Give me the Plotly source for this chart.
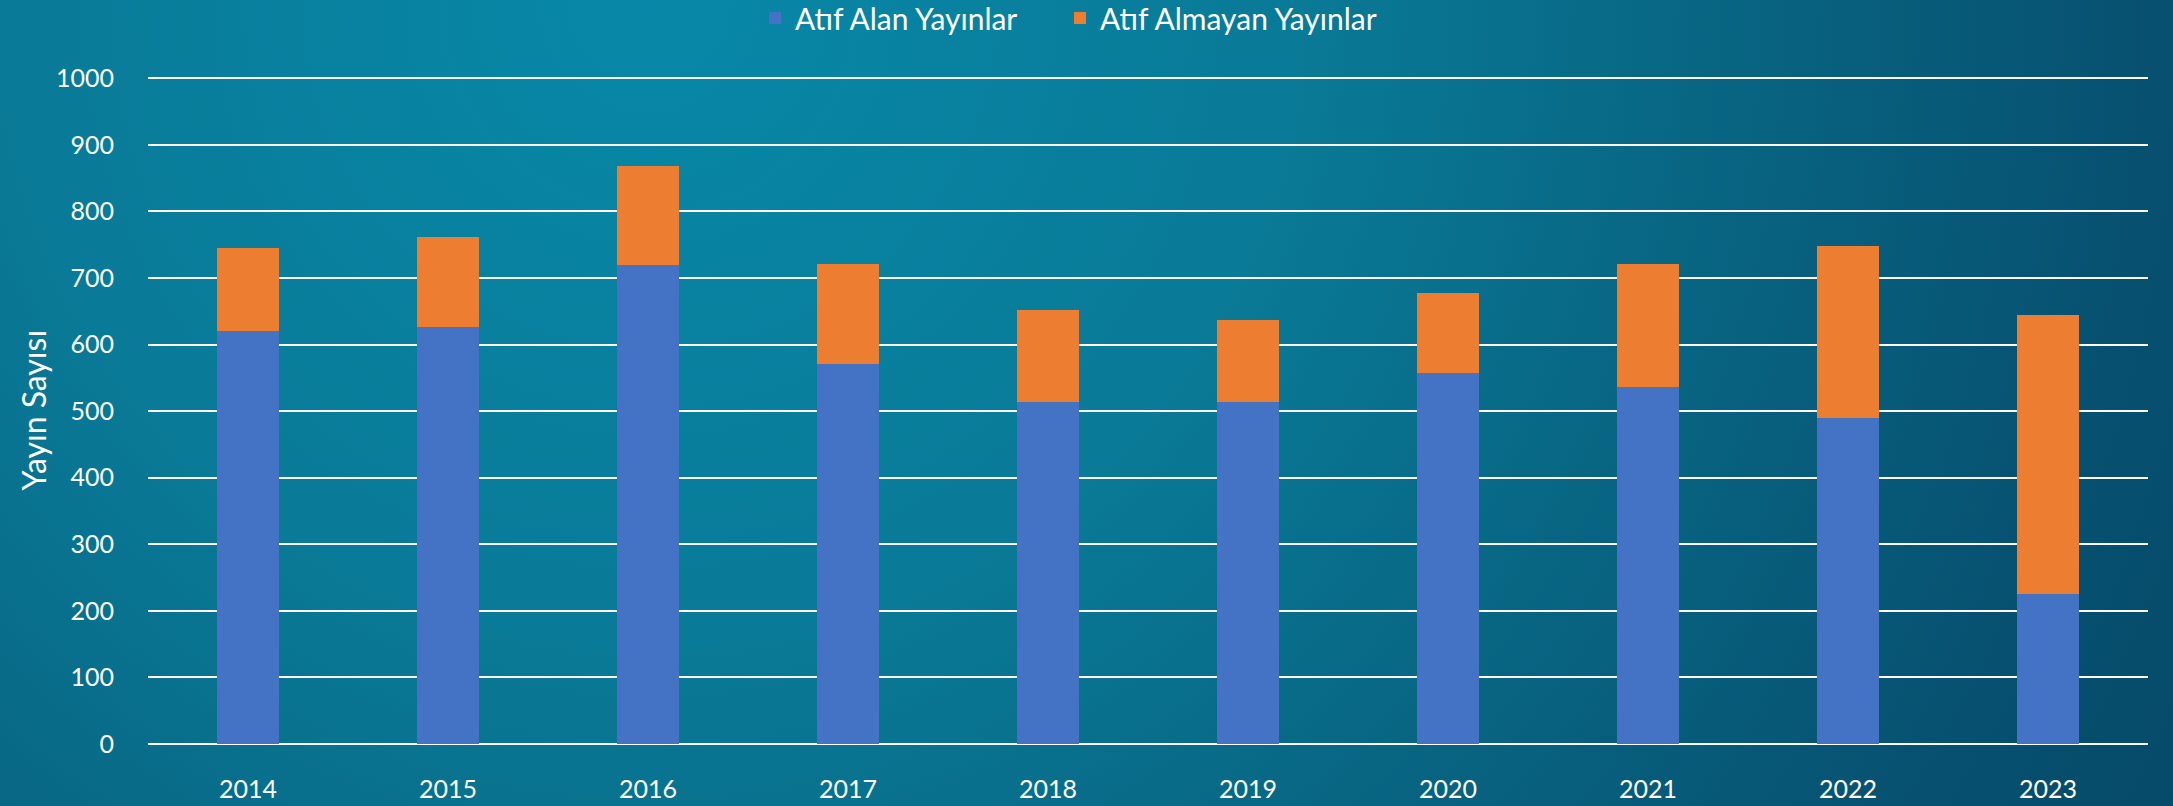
import base64
import plotly.graph_objects as go

years = ["2014", "2015", "2016", "2017", "2018", "2019", "2020", "2021", "2022", "2023"]
cited = [620, 626, 720, 571, 514, 514, 558, 537, 490, 225]
uncited = [125, 135, 148, 150, 138, 123, 119, 184, 258, 420]
y_ticks = [0, 100, 200, 300, 400, 500, 600, 700, 800, 900, 1000]

W, H = 2173, 806
L, R, T, B = 148, 25, 77, 62
PW, PH = W - L - R, H - T - B

svg = f'''<svg xmlns="http://www.w3.org/2000/svg" width="{W}" height="{H}" viewBox="0 0 {W} {H}">
<defs><radialGradient id="g" gradientUnits="userSpaceOnUse" cx="650" cy="0" r="1750">
<stop offset="0" stop-color="#0888a8"/>
<stop offset="0.37" stop-color="#097a97"/>
<stop offset="0.59" stop-color="#086784"/>
<stop offset="0.86" stop-color="#075070"/>
<stop offset="1" stop-color="#064a68"/>
</radialGradient></defs>
<rect width="{W}" height="{H}" fill="url(#g)"/></svg>'''
bg = "data:image/svg+xml;base64," + base64.b64encode(svg.encode()).decode()

font = "Lato, 'Open Sans', sans-serif"

fig = go.Figure()
fig.add_trace(go.Bar(x=years, y=cited, name="Atıf Alan Yayınlar",
                     marker=dict(color="#4472c4", line=dict(width=0)),
                     legend="legend"))
fig.add_trace(go.Bar(x=years, y=uncited, name="Atıf Almayan Yayınlar",
                     marker=dict(color="#ed7d31", line=dict(width=0)),
                     legend="legend2"))

legend_common = dict(orientation="h", xanchor="left",
                     y=1 + (T - 18) / PH, yanchor="middle",
                     font=dict(size=30, color="white"), bgcolor="rgba(0,0,0,0)",
                     itemwidth=30)

fig.update_layout(
    width=W, height=H,
    barmode="stack", bargap=0.69,
    margin=dict(l=L, r=R, t=T, b=B, autoexpand=False),
    paper_bgcolor="#076a88", plot_bgcolor="rgba(0,0,0,0)",
    font=dict(family=font, color="white", size=25),
    showlegend=True,
    legend=dict(x=(755 - L) / PW, **legend_common),
    legend2=dict(x=(1060 - L) / PW, **legend_common),
    images=[dict(source=bg, xref="paper", yref="paper",
                 x=-L / PW, y=1 + T / PH, sizex=W / PW, sizey=H / PH,
                 xanchor="left", yanchor="top", sizing="stretch", layer="below")],
    annotations=[dict(text="Yayın Sayısı", xref="paper", yref="paper",
                      x=(33 - L) / PW, y=0.5, xanchor="center", yanchor="middle",
                      textangle=-90, showarrow=False,
                      font=dict(size=32, color="white", family=font))],
)
fig.update_yaxes(range=[0, 1002], tickvals=y_ticks, showgrid=True,
                 gridcolor="white", gridwidth=2, zeroline=True,
                 zerolinecolor="white", zerolinewidth=2,
                 ticks="outside", ticklen=28, tickcolor="rgba(0,0,0,0)",
                 tickfont=dict(size=25, color="white"), showline=False)
fig.update_xaxes(showgrid=False, ticks="outside", ticklen=23,
                 tickcolor="rgba(0,0,0,0)", tickfont=dict(size=25, color="white"),
                 showline=False)

fig.write_html("out.html", config={"displayModeBar": False},
               post_script="document.body.style.margin='0';document.body.style.overflow='hidden';")
